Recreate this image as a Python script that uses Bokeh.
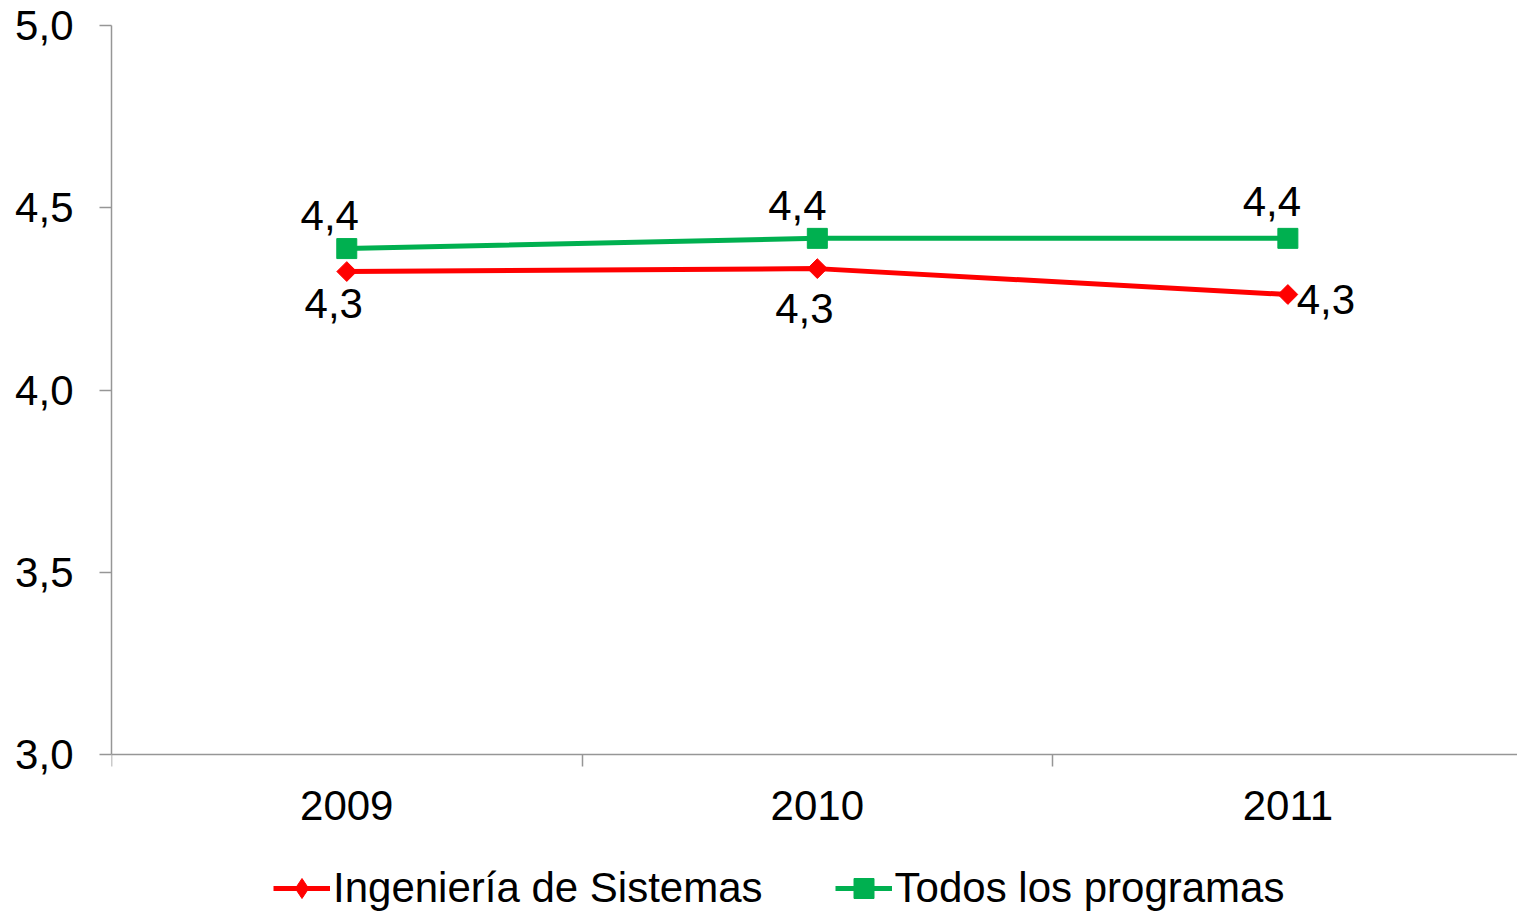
import numpy as np
from bokeh.plotting import figure
from bokeh.models import (ColumnDataSource, Range1d, FixedTicker, CustomJSTickFormatter,
                          Legend, LegendItem)
from bokeh.core.properties import value
from bokeh.embed import file_html
from bokeh.resources import INLINE

# ---- data ----
categories = ["2009", "2010", "2011"]
ingenieria = [4.325, 4.333, 4.262]
todos = [4.388, 4.416, 4.416]
y_ticks = [3.0, 3.5, 4.0, 4.5, 5.0]
series_names = ["Ingeniería de Sistemas", "Todos los programas"]

# ---- styling / positions ----
FONT = value("Liberation Sans")
FS = "42px"
RED = "#FF0000"
GREEN = "#00B050"
AXIS = "#969696"

xs = [i + 0.5 for i in range(len(categories))]
y_lo, y_hi = y_ticks[0], y_ticks[-1]


def fmt(v):
    return f"{v:.1f}".replace(".", ",")


# frame runs to the bottom of the page so the legend can sit inside it;
# the value axis itself only spans 3,0 .. 5,0
p = figure(width=1517, height=913, output_backend="svg", toolbar_location=None,
           x_range=Range1d(0, 2.988), y_range=Range1d(2.5638, y_hi),
           min_border_left=111, min_border_right=0, min_border_top=25,
           min_border_bottom=0)
p.outline_line_color = None
p.xgrid.visible = False
p.ygrid.visible = False
p.background_fill_color = "white"
p.border_fill_color = "white"

# axes
p.yaxis.ticker = FixedTicker(ticks=y_ticks)
p.yaxis.bounds = (y_lo, y_hi)
p.yaxis.formatter = CustomJSTickFormatter(code="return tick.toFixed(1).replace('.', ',');")
p.yaxis.major_tick_out = 12
p.yaxis.major_tick_in = 0
p.yaxis.minor_tick_line_color = None
p.yaxis.axis_line_color = AXIS
p.yaxis.major_tick_line_color = AXIS
p.yaxis.axis_line_width = 1.5
p.yaxis.major_tick_line_width = 1.5
p.yaxis.major_label_text_font = "Liberation Sans"
p.yaxis.major_label_text_font_size = FS
p.yaxis.major_label_text_color = "black"
p.yaxis.major_label_standoff = 26

p.xaxis.fixed_location = y_lo
p.xaxis.ticker = FixedTicker(ticks=xs, minor_ticks=list(range(len(categories) + 1)))
p.xaxis.formatter = CustomJSTickFormatter(args=dict(cats=categories),
                                          code="return cats[Math.floor(tick)];")
p.xaxis.major_tick_line_color = None
p.xaxis.major_tick_out = 0
p.xaxis.major_tick_in = 0
p.xaxis.minor_tick_out = 12
p.xaxis.minor_tick_in = 0
p.xaxis.minor_tick_line_color = AXIS
p.xaxis.minor_tick_line_width = 1.5
p.xaxis.axis_line_color = AXIS
p.xaxis.axis_line_width = 1.5
p.xaxis.major_label_text_font = "Liberation Sans"
p.xaxis.major_label_text_font_size = FS
p.xaxis.major_label_text_color = "black"
p.xaxis.major_label_standoff = 24

# series
src_r = ColumnDataSource(dict(x=xs, y=ingenieria, lab=[fmt(v) for v in ingenieria],
                              dx=[-13, -13, 38], dy=[32, 40, 5]))
src_g = ColumnDataSource(dict(x=xs, y=todos, lab=[fmt(v) for v in todos],
                              dx=[-17, -20, -16], dy=[-33, -33, -37]))

lr = p.line("x", "y", source=src_r, line_color=RED, line_width=5)
sr = p.scatter("x", "y", source=src_r, marker="square", angle=np.pi / 4, size=14,
               fill_color=RED, line_color=RED)
lg = p.line("x", "y", source=src_g, line_color=GREEN, line_width=5)
sg = p.scatter("x", "y", source=src_g, marker="square", size=20,
               fill_color=GREEN, line_color=GREEN)
# legend key for the diamond marker (the legend does not rotate markers);
# zero size in the plot, the legend sizes its own swatch
sr_key = p.scatter("x", "y", source=src_r, marker="diamond", size=0,
                   fill_color=RED, line_color=RED)

for src in (src_r, src_g):
    p.text("x", "y", text="lab", source=src, x_offset="dx", y_offset="dy",
           text_font=FONT, text_font_size=FS, text_align="center",
           text_baseline="alphabetic", text_color="black")

legend = Legend(items=[LegendItem(label=series_names[0], renderers=[lr, sr_key]),
                       LegendItem(label=series_names[1], renderers=[lg, sg])],
                location=(162, 0), orientation="horizontal",
                glyph_width=57, glyph_height=50, label_standoff=3, spacing=72,
                padding=0, margin=0, border_line_color=None,
                background_fill_alpha=0,
                label_text_font="Liberation Sans", label_text_font_size=FS,
                label_text_color="black")
p.add_layout(legend, "center")

open("out.html", "w").write(file_html(p, INLINE))
